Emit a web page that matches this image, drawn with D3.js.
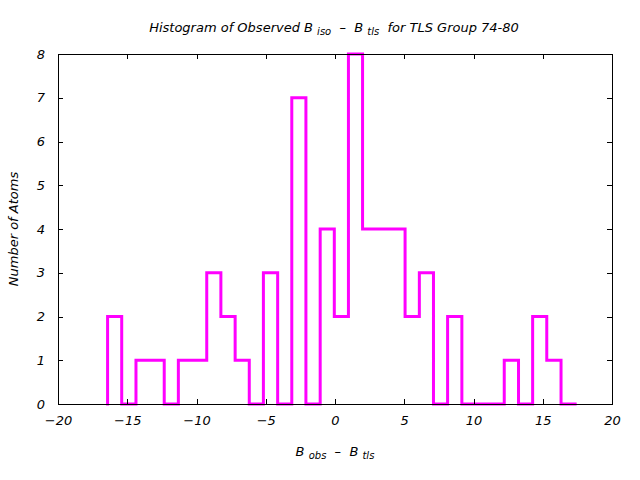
<!DOCTYPE html>
<html>
<head>
<meta charset="utf-8">
<script src="https://cdn.jsdelivr.net/npm/d3@7"></script>
<style>
  body { margin: 0; background: #fff; }
  text { font-family: "DejaVu Sans", "Open Sans", sans-serif; font-style: italic; white-space: pre; }
</style>
</head>
<body>
<svg id="chart" width="640" height="480"></svg>
<script>
// Bin edges (B_obs - B_tls) and counts
const binEdges = [-16.42, -15.40, -14.37, -13.35, -12.33, -11.31, -10.28, -9.26, -8.24, -7.21,
  -6.19, -5.17, -4.14, -3.12, -2.10, -1.07, -0.05, 0.97, 1.99, 3.02,
  4.04, 5.06, 6.09, 7.11, 8.13, 9.16, 10.18, 11.20, 12.22, 13.25,
  14.27, 15.29, 16.32, 17.34];
const counts = [2, 0, 1, 1, 0, 1, 1, 3, 2, 1,
  0, 3, 0, 7, 0, 4, 2, 8, 4, 4,
  4, 2, 3, 0, 2, 0, 0, 0, 1, 0,
  2, 1, 0];
const xTicks = [-20, -15, -10, -5, 0, 5, 10, 15, 20];
const yTicks = [0, 1, 2, 3, 4, 5, 6, 7, 8];

(function () {
const svg = d3.select("#chart");
const pL = 58, pR = 612, pT = 54, pB = 404;
const x = d3.scaleLinear().domain([-20, 20]).range([pL, pR]);
const y = d3.scaleLinear().domain([0, 8]).range([pB, pT]);

// histogram outline
const pts = [[binEdges[0], 0]];
counts.forEach((c, i) => {
  pts.push([binEdges[i], c]);
  pts.push([binEdges[i + 1], c]);
});
const line = d3.line().x(d => x(d[0])).y(d => y(d[1]));
svg.append("path").attr("d", line(pts))
  .attr("fill", "none").attr("stroke", "#ff00ff").attr("stroke-width", 3)
  .attr("stroke-linejoin", "miter").attr("stroke-linecap", "square");

// frame
svg.append("rect").attr("x", pL).attr("y", pT)
  .attr("width", pR - pL).attr("height", pB - pT)
  .attr("fill", "none").attr("stroke", "#000").attr("stroke-width", 1)
  .attr("shape-rendering", "crispEdges");

// axes with inward ticks (mirrored)
const tl = 5;
const gxb = svg.append("g").attr("transform", `translate(0,${pB})`)
  .call(d3.axisBottom(x).tickValues(xTicks).tickSize(-tl).tickPadding(12));
const gxt = svg.append("g").attr("transform", `translate(0,${pT})`)
  .call(d3.axisTop(x).tickValues(xTicks).tickSize(-tl).tickFormat(""));
const gyl = svg.append("g").attr("transform", `translate(${pL},0)`)
  .call(d3.axisLeft(y).tickValues(yTicks).tickSize(-tl).tickPadding(13));
const gyr = svg.append("g").attr("transform", `translate(${pR},0)`)
  .call(d3.axisRight(y).tickValues(yTicks).tickSize(-tl).tickFormat(""));
[gxb, gxt, gyl, gyr].forEach(g => {
  g.select(".domain").remove();
  g.selectAll("line").attr("stroke", "#000").attr("shape-rendering", "crispEdges");
  g.selectAll("text").attr("fill", "#000").style("font-size", "13px")
    .style("font-family", '"DejaVu Sans", sans-serif').style("font-style", "italic");
});
gxb.selectAll("text").text(d => d < 0 ? "\u2212" + Math.abs(d) : d);

// title
const title = svg.append("text").attr("x", 334).attr("y", 32)
  .attr("text-anchor", "middle").style("font-size", "13px");
title.append("tspan").text("Histogram of Observed B ");
title.append("tspan").attr("dy", 3).style("font-size", "10px").text("iso");
title.append("tspan").attr("dy", -3).text("  \u2013  B ");
title.append("tspan").attr("dy", 3).style("font-size", "10px").text("tls");
title.append("tspan").attr("dy", -3).text("  for TLS Group 74-80");

// x label
const xl = svg.append("text").attr("x", 335).attr("y", 456)
  .attr("text-anchor", "middle").style("font-size", "13px");
xl.append("tspan").text("B ");
xl.append("tspan").attr("dy", 3).style("font-size", "10px").text("obs");
xl.append("tspan").attr("dy", -3).text("  \u2013  B ");
xl.append("tspan").attr("dy", 3).style("font-size", "10px").text("tls");

// y label
svg.append("text").attr("transform", "translate(18,229) rotate(-90)")
  .attr("text-anchor", "middle").style("font-size", "13px").text("Number of Atoms");
})();
</script>
</body>
</html>
